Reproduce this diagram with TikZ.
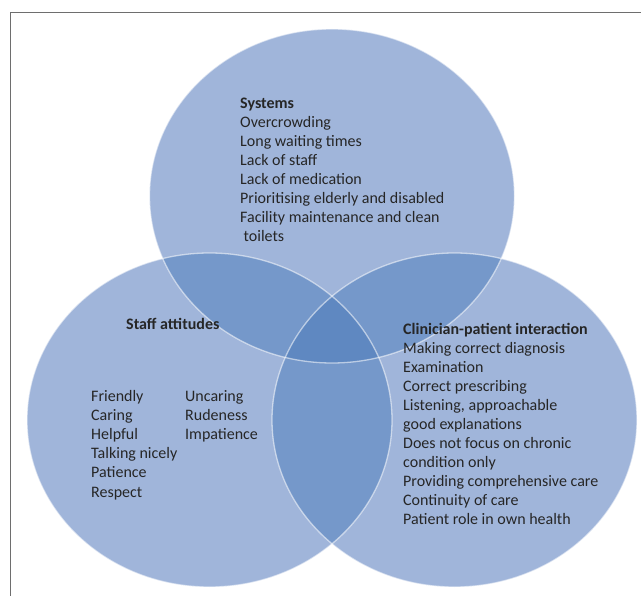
\documentclass[tikz,border=0pt]{standalone}
\usepackage{fontspec}
\setmainfont{Carlito}
\begin{document}
\begin{tikzpicture}[x=1pt,y=-1pt,
  txt/.style={anchor=base west, inner sep=0pt, text=textcol, font=\fontsize{16}{19}\selectfont},
  head/.style={txt, font=\fontsize{16}{19}\selectfont\bfseries}]
\definecolor{basecol}{HTML}{A0B5DA}
\definecolor{paircol}{HTML}{7598CA}
\definecolor{triplecol}{HTML}{5F88C1}
\definecolor{textcol}{HTML}{262626}
\definecolor{framecol}{HTML}{6E6E6E}
\useasboundingbox (0,0) rectangle (641,596);
\def\EA{(332,196) ellipse [x radius=182.5pt, y radius=167pt]}
\def\EB{(209.5,420) ellipse [x radius=182.5pt, y radius=167pt]}
\def\EC{(454.5,420) ellipse [x radius=182.5pt, y radius=167pt]}
% frame
\draw[framecol, line width=1pt] (10.5,596) -- (10.5,13) -- (641,13);
% base fills
\fill[basecol] \EA; \fill[basecol] \EB; \fill[basecol] \EC;
% pairwise overlaps
\begin{scope}\clip \EA; \fill[paircol] \EB; \fill[paircol] \EC;\end{scope}
\begin{scope}\clip \EB; \fill[paircol] \EC;\end{scope}
% triple overlap
\begin{scope}\clip \EA; \clip \EB; \fill[triplecol] \EC;\end{scope}
% light outlines
\draw[white, opacity=0.55, line width=1.3pt] \EA;
\draw[white, opacity=0.55, line width=1.3pt] \EB;
\draw[white, opacity=0.55, line width=1.3pt] \EC;
% Systems
\node[head] (sys0) at (240,109) {Systems};
\foreach \t [count=\i] in {Overcrowding, Long waiting times, Lack of staff, Lack of medication, Prioritising elderly and disabled, Facility maintenance and clean}
  \node[txt] (sys\i) at (240,{109+19*\i}) {\t};
\node[txt] (sys7) at (243.5,242) {toilets};
% Staff attitudes
\node[head] (st0) at (126,330) {Staff attitudes};
\foreach \t [count=\i] in {Friendly, Caring, Helpful, Talking nicely, Patience, Respect}
  \node[txt] (stl\i) at (91,{383+19*\i}) {\t};
\foreach \t [count=\i] in {Uncaring, Rudeness, Impatience}
  \node[txt] (str\i) at (185,{383+19*\i}) {\t};
% Clinician-patient interaction
\node[head] (cl0) at (403,335) {Clinician-patient interaction};
\foreach \t [count=\i] in {Making correct diagnosis, Examination, Correct prescribing, {Listening, approachable}, good explanations, Does not focus on chronic, condition only, Providing comprehensive care, Continuity of care, Patient role in own health}
  \node[txt] (cl\i) at (403,{335+19*\i}) {\t};
\end{tikzpicture}
\end{document}
